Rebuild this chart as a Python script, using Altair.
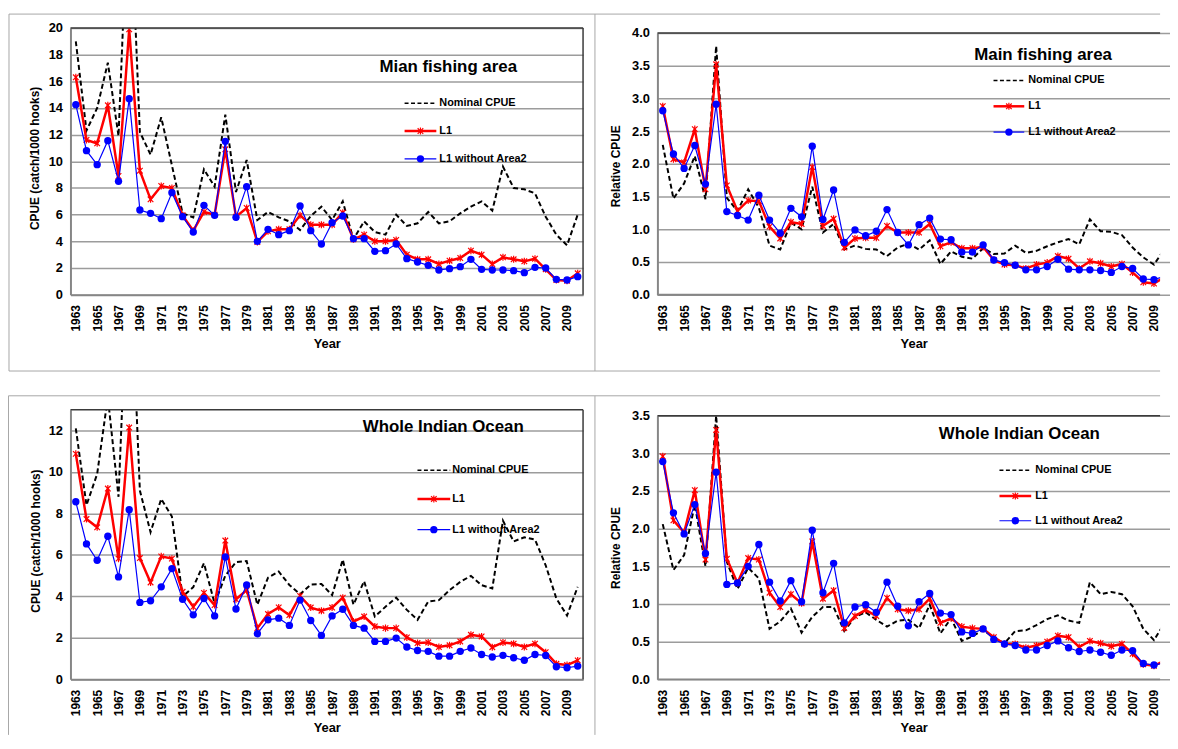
import altair as alt
import pandas as pd

years = list(range(1963, 2011))
label_years = list(range(1963, 2011, 2))
series_names = ["Nominal CPUE", "L1", "L1 without Area2"]

# Panel 1: Mian fishing area (CPUE)
p1_nominal = [19.0, 12.3, 14.0, 17.4, 11.9, 31.6, 12.2, 10.5, 13.3, 9.7,
              6.1, 5.8, 9.4, 8.1, 13.5, 7.7, 10.1, 5.6, 6.2, 5.8,
              5.5, 4.85, 5.9, 6.6, 5.6, 7.0, 4.15, 5.5, 4.7, 4.5,
              6.0, 5.15, 5.35, 6.2, 5.35, 5.5, 6.1, 6.6, 7.0, 6.3,
              9.6, 8.0, 7.9, 7.6, 5.85, 4.5, 3.7, 6.0]
p1_l1 = [16.3, 11.6, 11.35, 14.2, 8.9, 19.9, 9.3, 7.15, 8.15, 8.0,
         5.95, 4.8, 6.2, 6.0, 10.9, 5.85, 6.5, 3.95, 4.75, 4.9,
         4.9, 5.95, 5.25, 5.25, 5.25, 6.15, 4.15, 4.5, 4.0, 4.0,
         4.1, 3.0, 2.65, 2.65, 2.3, 2.55, 2.75, 3.3, 3.0, 2.3,
         2.8, 2.65, 2.5, 2.7, 1.9, 1.1, 1.05, 1.6]
p1_l1wo = [14.25, 10.8, 9.75, 11.55, 8.5, 14.7, 6.35, 6.1, 5.7, 7.65,
           5.85, 4.7, 6.7, 5.95, 11.5, 5.8, 8.1, 4.0, 4.9, 4.5,
           4.8, 6.65, 4.8, 3.8, 5.4, 5.9, 4.2, 4.2, 3.25, 3.3,
           3.8, 2.7, 2.45, 2.2, 1.85, 1.95, 2.1, 2.65, 1.9, 1.85,
           1.85, 1.8, 1.65, 2.05, 2.0, 1.15, 1.1, 1.35]

# Panel 2: Main fishing area (relative CPUE)
p2_nominal = [2.29, 1.47, 1.7, 2.12, 1.46, 3.80, 1.48, 1.28, 1.61, 1.33,
              0.75, 0.69, 1.10, 1.0, 1.65, 0.95, 1.08, 0.69, 0.75, 0.70,
              0.69, 0.59, 0.72, 0.78, 0.69, 0.83, 0.47, 0.66, 0.58, 0.55,
              0.71, 0.62, 0.63, 0.75, 0.64, 0.67, 0.74, 0.80, 0.85, 0.77,
              1.15, 0.97, 0.96, 0.91, 0.72, 0.57, 0.46, 0.70]
p2_l1 = [2.88, 2.07, 2.02, 2.53, 1.61, 3.52, 1.67, 1.28, 1.44, 1.43,
         1.04, 0.86, 1.11, 1.08, 1.95, 1.05, 1.16, 0.72, 0.86, 0.87,
         0.87, 1.05, 0.95, 0.95, 0.95, 1.08, 0.74, 0.80, 0.71, 0.71,
         0.73, 0.53, 0.46, 0.45, 0.40, 0.46, 0.49, 0.59, 0.55, 0.40,
         0.51, 0.48, 0.43, 0.47, 0.34, 0.19, 0.17, 0.27]
p2_l1wo = [2.81, 2.15, 1.93, 2.28, 1.69, 2.91, 1.27, 1.21, 1.14, 1.52,
           1.14, 0.94, 1.32, 1.19, 2.27, 1.15, 1.60, 0.80, 0.99, 0.90,
           0.97, 1.30, 0.95, 0.76, 1.07, 1.17, 0.85, 0.84, 0.65, 0.65,
           0.76, 0.53, 0.49, 0.45, 0.38, 0.38, 0.43, 0.54, 0.39, 0.38,
           0.38, 0.37, 0.34, 0.43, 0.40, 0.24, 0.23, 0.28]

# Panel 3: Whole Indian Ocean (CPUE)
p3_nominal = [12.1, 8.4, 9.9, 13.6, 8.8, 21.5, 9.1, 7.1, 8.7, 7.85,
              4.0, 4.45, 5.6, 3.65, 5.0, 5.65, 5.7, 3.6, 4.9, 5.2,
              4.55, 4.1, 4.57, 4.6, 4.06, 5.77, 3.6, 4.73, 3.03, 3.5,
              3.94, 3.35, 2.87, 3.75, 3.82, 4.3, 4.7, 4.99, 4.54, 4.38,
              7.65, 6.65, 6.85, 6.74, 5.5, 3.9, 3.08, 4.46]
p3_l1 = [10.87, 7.73, 7.33, 9.2, 5.82, 12.14, 5.85, 4.67, 5.93, 5.82,
         4.22, 3.5, 4.17, 3.58, 6.69, 3.86, 4.3, 2.47, 3.15, 3.47,
         3.1, 4.02, 3.46, 3.31, 3.46, 3.94, 2.79, 3.03, 2.55, 2.47,
         2.47, 2.02, 1.75, 1.78, 1.56, 1.64, 1.83, 2.15, 2.07, 1.55,
         1.78, 1.72, 1.56, 1.72, 1.31, 0.75, 0.69, 0.91]
p3_l1wo = [8.56, 6.53, 5.74, 6.9, 4.94, 8.18, 3.71, 3.79, 4.46, 5.34,
           3.86, 3.11, 3.9, 3.06, 5.9, 3.39, 4.55, 2.2, 2.87, 2.95,
           2.6, 3.82, 2.84, 2.12, 3.06, 3.38, 2.6, 2.47, 1.83, 1.83,
           1.99, 1.56, 1.39, 1.35, 1.12, 1.12, 1.35, 1.51, 1.2, 1.08,
           1.16, 1.04, 0.92, 1.2, 1.15, 0.61, 0.56, 0.64]

# Panel 4: Whole Indian Ocean (relative CPUE)
p4_nominal = [2.06, 1.45, 1.65, 2.32, 1.5, 3.7, 1.56, 1.2, 1.48, 1.34,
              0.67, 0.77, 0.94, 0.62, 0.83, 0.96, 0.96, 0.64, 0.83, 0.89,
              0.79, 0.70, 0.78, 0.79, 0.68, 0.99, 0.61, 0.81, 0.51, 0.57,
              0.66, 0.55, 0.48, 0.64, 0.65, 0.72, 0.80, 0.85, 0.78, 0.75,
              1.29, 1.13, 1.16, 1.13, 0.97, 0.67, 0.52, 0.75]
p4_l1 = [2.96, 2.11, 1.95, 2.51, 1.59, 3.31, 1.6, 1.28, 1.61, 1.59,
         1.15, 0.96, 1.13, 1.01, 1.83, 1.07, 1.18, 0.68, 0.84, 0.92,
         0.84, 1.08, 0.93, 0.91, 0.93, 1.07, 0.75, 0.81, 0.70, 0.68,
         0.67, 0.56, 0.47, 0.47, 0.42, 0.45, 0.50, 0.58, 0.56, 0.43,
         0.51, 0.48, 0.44, 0.47, 0.34, 0.20, 0.18, 0.25]
p4_l1wo = [2.89, 2.21, 1.93, 2.32, 1.67, 2.75, 1.26, 1.28, 1.5, 1.79,
           1.29, 1.04, 1.31, 1.03, 1.98, 1.15, 1.54, 0.75, 0.96, 0.99,
           0.89, 1.29, 0.97, 0.71, 1.03, 1.14, 0.88, 0.86, 0.63, 0.61,
           0.67, 0.53, 0.47, 0.45, 0.39, 0.39, 0.45, 0.51, 0.42, 0.37,
           0.39, 0.36, 0.32, 0.39, 0.38, 0.21, 0.19, 0.22]

FONT = "Liberation Sans"
STAR = "M-0.8,-0.8L0.8,0.8M-0.8,0.8L0.8,-0.8M0,-1L0,1"
RED = "#FF0000"
BLUE = "#0000FF"
GRID = "#9c9c9c"
AXIS = "#868686"
FRAME = "#a6a6a6"
DARK = "#3a3a3a"
XRANGE = 517


def one():
    return alt.Chart(pd.DataFrame({"k": [0]}))


def hrule(x1, x2, y, color, w, dash=None):
    kw = dict(color=color, strokeWidth=w)
    if dash:
        kw["strokeDash"] = dash
    return one().mark_rule(**kw).encode(x=alt.value(x1), x2=alt.value(x2), y=alt.value(y))


def vrule(x, y1, y2, color, w):
    return one().mark_rule(color=color, strokeWidth=w).encode(
        x=alt.value(x), y=alt.value(y1), y2=alt.value(y2))


def label(txt, x, y, size, align="left"):
    return one().mark_text(text=txt, fontSize=size, fontWeight="bold", align=align,
                           baseline="middle", color="black", font=FONT).encode(
        x=alt.value(x), y=alt.value(y))


def panel(nom, l1, l1wo, c):
    df = pd.DataFrame({
        "Year": years * 3,
        "value": nom + l1 + l1wo,
        "series": [s for s in series_names for _ in years],
    })
    W, H, ytop = c["width"], c["height"], c["ytop"]
    x = alt.X("Year:O",
              scale=alt.Scale(type="point", padding=0.5, range=[0, XRANGE]),
              axis=alt.Axis(values=label_years, labelAngle=270, labelFontSize=12,
                            labelFontWeight="bold", labelColor="black", labelPadding=10,
                            labelOverlap=False, ticks=False, tickSize=0, grid=False,
                            domain=c["xdomain"], domainColor=AXIS, domainWidth=2,
                            title="Year", titleFontSize=13, titleFontWeight="bold",
                            titleColor="black", titleY=49, titleBaseline="middle"))
    y = alt.Y("value:Q",
              scale=alt.Scale(domain=[0, c["ymax"]], range=[H, ytop], nice=False,
                              zero=True, clamp=c["clamp"]),
              axis=alt.Axis(values=c["yvals"], format=c["fmt"], grid=True, gridColor=GRID,
                            gridWidth=1.5, domainColor=AXIS, domainWidth=2, ticks=False,
                            tickSize=0, labelFontSize=13, labelFontWeight="bold",
                            labelColor="black", labelPadding=8, labelOverlap=False,
                            title=c["ytitle"], titleFontSize=12, titleFontWeight="bold",
                            titleColor="black", titleX=c["ytx"], titleY=c["yty"],
                            titleAngle=270, titleAlign="center", titleBaseline="middle"))
    base = alt.Chart(df).encode(x=x, y=y)
    nomline = base.transform_filter(alt.datum.series == series_names[0]).mark_line(
        color="black", strokeWidth=2, strokeDash=[5, 3], clip=True)
    red = base.transform_filter(alt.datum.series == series_names[1])
    redline = red.mark_line(color=RED, strokeWidth=2.5, clip=True)
    redpts = red.mark_point(shape=STAR, size=50, color=RED, filled=False,
                            strokeWidth=1.2, opacity=1, clip=True)
    blue = base.transform_filter(alt.datum.series == series_names[2])
    blueline = blue.mark_line(color=BLUE, strokeWidth=1.2, clip=True)
    bluepts = blue.mark_point(shape="circle", size=55, color=BLUE, filled=True,
                              opacity=1, clip=True)

    layers = [nomline, redline, redpts, blueline, bluepts]

    # plot-area frame (top / right) and own x axis line
    layers.append(hrule(0, W, ytop, DARK, 1.5))
    if c["rightframe"]:
        layers.append(vrule(W, ytop, H, DARK, 1.5))
    if not c["xdomain"]:
        layers.append(hrule(0, W, H, AXIS, 2))

    # outer chart-area frame
    fx1, fx2, fbot = c["frame"]
    layers.append(hrule(fx1, fx2, -14, FRAME, 1))
    layers.append(vrule(fx1, -14, fbot, FRAME, 1))
    if c["framebottom"]:
        layers.append(hrule(fx1, fx2, fbot, FRAME, 1))

    # title inside plot
    tx, ty = c["title_pos"]
    layers.append(label(c["title"], tx, ty, 17, align="center"))

    # legend
    lx1, lx2, ltx, lys = c["legend"]
    mid = (lx1 + lx2) / 2
    layers.append(hrule(lx1, lx2, lys[0], "black", 1.5, [4, 2.5]))
    layers.append(hrule(lx1, lx2, lys[1], RED, 2.5))
    layers.append(one().mark_point(shape=STAR, size=50, color=RED, filled=False,
                                   strokeWidth=1.2, opacity=1).encode(
        x=alt.value(mid), y=alt.value(lys[1])))
    layers.append(hrule(lx1, lx2, lys[2], BLUE, 1.2))
    layers.append(one().mark_point(shape="circle", size=55, color=BLUE, filled=True,
                                   opacity=1).encode(x=alt.value(mid), y=alt.value(lys[2])))
    for name, ly in zip(series_names, lys):
        layers.append(label(name, ltx, ly, 11))

    return alt.layer(*layers).properties(width=W, height=H)


p1 = panel(p1_nominal, p1_l1, p1_l1wo, dict(
    width=517, height=269, ytop=0, ymax=20, yvals=list(range(0, 21, 2)), fmt="d",
    clamp=False, ytitle="CPUE (catch/1000 hooks)", ytx=-36, yty=131,
    xdomain=True, rightframe=True, frame=(-62, 529, 346), framebottom=True,
    title="Mian fishing area", title_pos=(381, 39),
    legend=(337, 369, 372, [76, 104, 132])))

p2 = panel(p2_nominal, p2_l1, p2_l1wo, dict(
    width=507, height=269, ytop=5, ymax=4.0, yvals=[i * 0.5 for i in range(9)], fmt=".1f",
    clamp=True, ytitle="Relative CPUE", ytx=-42, yty=139,
    xdomain=False, rightframe=False, frame=(-63, 507, 346), framebottom=True,
    title="Main fishing area", title_pos=(389, 27),
    legend=(339, 370, 374, [53, 79, 105])))

p3 = panel(p3_nominal, p3_l1, p3_l1wo, dict(
    width=517, height=272, ytop=0, ymax=13, yvals=list(range(0, 13, 2)), fmt="d",
    clamp=False, ytitle="CPUE (catch/1000 hooks)", ytx=-35, yty=132,
    xdomain=True, rightframe=True, frame=(-62.5, 529, 328), framebottom=False,
    title="Whole Indian Ocean", title_pos=(376, 18),
    legend=(350, 383, 385, [61, 90, 121])))

p4 = panel(p4_nominal, p4_l1, p4_l1wo, dict(
    width=507, height=272, ytop=6, ymax=3.5, yvals=[i * 0.5 for i in range(8)], fmt=".1f",
    clamp=True, ytitle="Relative CPUE", ytx=-42, yty=139,
    xdomain=False, rightframe=False, frame=(-63, 507, 328), framebottom=False,
    title="Whole Indian Ocean", title_pos=(365, 25),
    legend=(345, 377, 381, [61, 87, 112])))

chart = alt.concat(p1, p2, p3, p4, columns=2, bounds="flush",
                   spacing={"row": 116, "column": 75}).properties(
    padding={"left": 0, "top": 2, "right": 0, "bottom": 0}
).configure(font=FONT).configure_view(stroke=None)

chart.save("out.html", embed_options={"renderer": "svg", "actions": False})
